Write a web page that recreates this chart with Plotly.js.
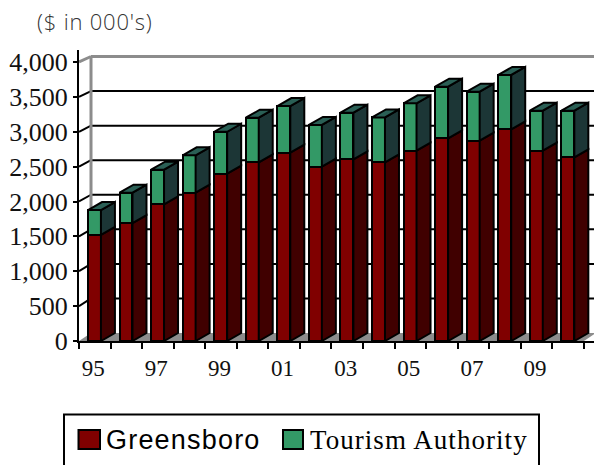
<!DOCTYPE html>
<html><head><meta charset="utf-8">
<script src="https://cdn.plot.ly/plotly-3.0.1.min.js"></script>
<style>html,body{margin:0;padding:0;background:#fff;overflow:hidden}</style>
</head><body><div id="chart" style="width:594px;height:465px"></div>
<script>
const categories = ['95','96','97','98','99','00','01','02','03','04','05','06','07','08','09','10'];
const tickLabels = ['95','97','99','01','03','05','07','09'];
const greensboro = [1520,1690,1960,2126,2400,2562,2700,2499,2605,2562,2728,2906,2872,3035,2728,2633];
const tourism = [358,436,496,536,600,639,669,598,668,644,679,740,703,779,574,669];
const yTicks = [0,500,1000,1500,2000,2500,3000,3500,4000];

const pxX = 31.56, pxY = 0.06975;
const barOff = 0.49, barW = 0.41;
const depthX = 14/pxX, depthY = 8/pxY;
const wallX = 12/pxX, wallTop = 5.5/pxY, xMax = (594-79)/pxX, yMax = (341-50)/pxY;
const idx = categories.map((_, i) => i + barOff);
const totals = greensboro.map((v, i) => v + tourism[i]);

function faces(lo, hi) {
  const x = [], y = [];
  idx.forEach((c, i) => {
    const r = c + barW/2;
    x.push(r, r+depthX, r+depthX, r, r, null);
    y.push(lo[i], lo[i]+depthY, hi[i]+depthY, hi[i], lo[i], null);
  });
  return {x, y};
}
function tops(hi) {
  const x = [], y = [];
  idx.forEach((c, i) => {
    const l = c - barW/2, r = c + barW/2;
    x.push(l, r, r+depthX, l+depthX, l, null);
    y.push(hi[i], hi[i], hi[i]+depthY, hi[i]+depthY, hi[i], null);
  });
  return {x, y};
}
const edge = {color:'#000', width:2};
const poly = (d, fill) => ({type:'scatter', mode:'lines', x:d.x, y:d.y, fill:'toself', fillcolor:fill,
  line:edge, showlegend:false, hoverinfo:'skip', cliponaxis:false});

const traces = [
  {type:'bar', name:'Greensboro', x:idx, y:greensboro, width:barW, marker:{color:'#800000', line:edge}},
  {type:'bar', name:'Tourism Authority', x:idx, y:tourism, width:barW, marker:{color:'#339966', line:edge}},
  poly(faces(greensboro.map(()=>0), greensboro), '#400000'),
  poly(faces(greensboro, totals), '#1c3636'),
  poly(tops(totals), '#2a5f55'),
  {type:'scatter', mode:'none', x:[0], y:[0], xaxis:'x2', yaxis:'y', showlegend:false, hoverinfo:'skip'}
];

const shapes = [];
shapes.push({type:'path', layer:'below', xref:'x', yref:'y',
  path:`M0,0 L16,0 L${16+wallX},${depthY} L${wallX},${depthY} Z`,
  fillcolor:'#8c8c8c', line:{width:0}});
yTicks.slice(1,-1).forEach(v => {
  const t = wallTop + (depthY-wallTop)*(1-v/4000);
  shapes.push({type:'line', layer:'below', x0:wallX, x1:xMax, y0:v+t, y1:v+t, line:{color:'#000', width:2}});
  shapes.push({type:'line', layer:'below', x0:0, x1:wallX, y0:v, y1:v+t, line:{color:'#000', width:2}});
});
shapes.push({type:'line', layer:'below', x0:wallX, x1:wallX, y0:depthY, y1:4000+wallTop, line:{color:'#8c8c8c', width:3}});
shapes.push({type:'line', layer:'below', x0:0, x1:wallX, y0:4000, y1:4000+wallTop, line:{color:'#8c8c8c', width:3}});
shapes.push({type:'line', layer:'below', x0:wallX, x1:xMax, y0:4000+wallTop, y1:4000+wallTop, line:{color:'#8c8c8c', width:3}});
const px = v => (v-79)/515, py = v => (341-v)/291;
// legend frame and swatches
const box = (x0,x1,y0,y1,fill,w) => ({type:'rect', xref:'paper', yref:'paper', x0, x1, y0, y1, fillcolor:fill, line:{color:'#000', width:w}});
shapes.push(box(px(64), px(539), py(480), py(414.5), 'rgba(0,0,0,0)', 2));
shapes.push(box(px(78.5), px(100), py(449), py(430), '#800000', 2));
shapes.push(box(px(283), px(303), py(449), py(430), '#339966', 2));

const layout = {
  width:594, height:465, barmode:'stack', showlegend:false,
  paper_bgcolor:'#fff', plot_bgcolor:'#fff',
  margin:{l:79, r:0, t:50, b:124},
  xaxis:{range:[0,xMax], showgrid:false, zeroline:false, showline:true, linecolor:'#000', linewidth:2,
    tickmode:'array', tickvals:categories.map((_,i)=>i).concat([16]), showticklabels:false,
    ticks:'outside', ticklen:6, tickcolor:'#000', tickwidth:2},
  xaxis2:{overlaying:'x', anchor:'y', side:'bottom', range:[0,xMax], showgrid:false, zeroline:false, showline:false,
    tickmode:'array', tickvals:tickLabels.map(l => categories.indexOf(l)+0.45), ticktext:tickLabels,
    ticks:'outside', ticklen:6, tickcolor:'rgba(0,0,0,0)', tickwidth:1,
    tickfont:{family:'Liberation Serif', size:23, color:'#111'}},
  yaxis:{range:[0,yMax], showgrid:false, zeroline:false, showline:true, linecolor:'#000', linewidth:2,
    tickmode:'array', tickvals:yTicks, tickformat:',', ticks:'outside', ticklen:4, tickcolor:'#000', tickwidth:2,
    tickfont:{family:'Liberation Serif', size:26, color:'#111'}},
  shapes,
  annotations:[
    {xref:'paper', yref:'paper', x:px(35), y:py(21), xanchor:'left', yanchor:'middle', showarrow:false,
     text:'<span style="letter-spacing:0.8px">($ in 000\'s)</span>', font:{family:'Open Sans', size:22, color:'#333', weight:300}},
    {xref:'paper', yref:'paper', x:px(104), y:py(440), xanchor:'left', yanchor:'middle', showarrow:false,
     text:'<span style="letter-spacing:1.2px">Greensboro</span>', font:{family:'Liberation Sans', size:27, color:'#000'}},
    {xref:'paper', yref:'paper', x:px(308), y:py(440), xanchor:'left', yanchor:'middle', showarrow:false,
     text:'<span style="letter-spacing:1.05px">Tourism Authority</span>', font:{family:'Liberation Serif', size:27, color:'#000'}}
  ]
};
Plotly.newPlot('chart', traces, layout, {displayModeBar:false, staticPlot:true});
</script></body></html>
